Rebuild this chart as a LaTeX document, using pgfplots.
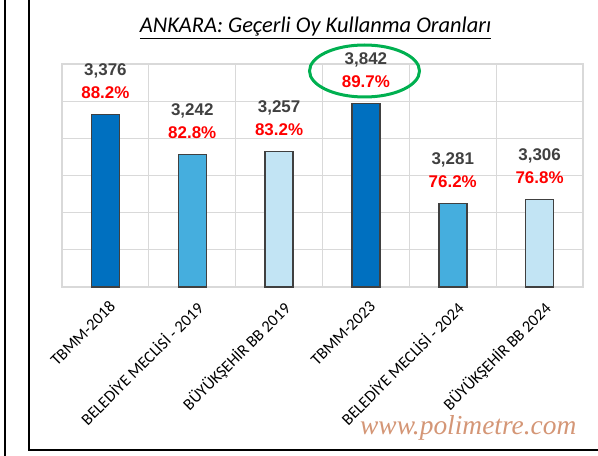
\documentclass[border=0pt]{standalone}
\usepackage{pgfplots}
\pgfplotsset{compat=1.18}
\usepackage{pgfplotstable}
\usepackage{fontspec}
\setmainfont{Liberation Sans}
\newfontfamily\titlefont{Carlito}
\newfontfamily\tickfont{Carlito}
\newfontfamily\wmfont{Liberation Serif}
\definecolor{darkbar}{HTML}{0070C0}
\definecolor{midbar}{HTML}{45AEDE}
\definecolor{lightbar}{HTML}{C2E4F4}
\definecolor{edgegray}{HTML}{404040}
\definecolor{gridgray}{HTML}{D9D9D9}
\definecolor{numgray}{HTML}{404040}
\definecolor{ovalgreen}{HTML}{00B050}
\definecolor{wmcolor}{RGB}{212,150,118}

\pgfplotstableread{
x pct votes
0 88.2 3,376
3 89.7 3,842
}\darkdata
\pgfplotstableread{
x pct votes
1 82.8 3,242
4 76.2 3,281
}\middata
\pgfplotstableread{
x pct votes
2 83.2 3,257
5 76.8 3,306
}\lightdata

\begin{document}
\begin{tikzpicture}
\useasboundingbox (-62bp,-169bp) rectangle (536bp,287bp);
\begin{axis}[
  at={(0,0)}, anchor=south west,
  scale only axis, width=521bp, height=223bp,
  xmin=-0.5, xmax=5.5, ymin=65, ymax=95,
  xtick={0,...,5},
  xticklabels={TBMM-2018, BELEDİYE MECLİSİ - 2019, BÜYÜKŞEHİR BB 2019, TBMM-2023, BELEDİYE MECLİSİ - 2024, BÜYÜKŞEHİR BB 2024},
  minor xtick={-0.5,0.5,...,5.5},
  ytick={65,70,...,95},
  yticklabel style={opacity=0},
  xminorgrids=true, ymajorgrids=true, xmajorgrids=false,
  grid style={draw=gridgray, line width=1.3bp},
  minor grid style={draw=gridgray, line width=1.3bp},
  axis line style={draw=gridgray, line width=1.3bp},
  major tick length=0pt, minor tick length=0pt,
  xticklabel style={font=\tickfont\fontsize{16.5}{16.5}\selectfont, rotate=45, anchor=north east, inner sep=0pt, xshift=-7bp, yshift=-11bp},
  ybar, bar width=28bp, bar shift=0pt,
  point meta=explicit symbolic,
  visualization depends on={\thisrow{pct} \as \pct},
  nodes near coords={\textcolor{numgray}{\pgfplotspointmeta}\\\textcolor{red}{\pgfmathprintnumber[fixed,precision=1,fixed zerofill,assume math mode=true]{\pct}\%}},
  every node near coord/.append style={font=\fontsize{17}{23}\selectfont\bfseries, align=center, anchor=south, inner sep=0pt, yshift=15bp},
]
\addplot[fill=darkbar, draw=edgegray, line width=1.5bp] table[x=x, y=pct, meta=votes] {\darkdata};
\addplot[fill=midbar, draw=edgegray, line width=1.5bp] table[x=x, y=pct, meta=votes] {\middata};
\addplot[fill=lightbar, draw=edgegray, line width=1.5bp] table[x=x, y=pct, meta=votes] {\lightdata};
\end{axis}
\node[anchor=base, inner sep=0pt, font=\titlefont\itshape\fontsize{22.5}{22.5}\selectfont] at (253.5bp,254bp) {\underline{ANKARA: Geçerli Oy Kullanma Oranları}};
\draw[ovalgreen, line width=3bp] (302.5bp,216bp) ellipse [x radius=55bp, y radius=26bp];
\draw[line width=2bp] (-57bp,-169bp) -- (-57bp,287bp);
\draw[line width=2bp] (-33bp,290bp) -- (-33bp,-163bp) -- (540bp,-163bp);
\node[anchor=base west, inner sep=0pt, text=wmcolor, font=\wmfont\itshape\fontsize{27.5}{27.5}\selectfont] at (298bp,-147bp) {www.polimetre.com};
\end{tikzpicture}
\end{document}
